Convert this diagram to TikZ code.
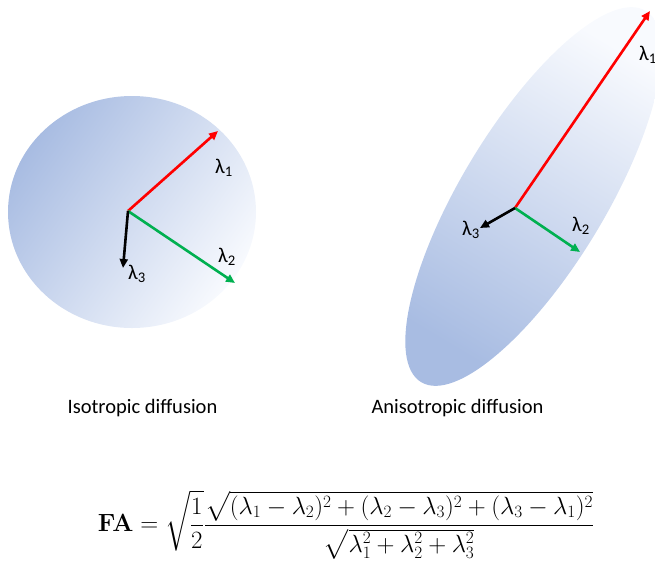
\documentclass[tikz,border=0pt]{standalone}
\usepackage[no-math]{fontspec}
\usepackage{amsmath}
\newfontfamily\labfont{Carlito}
\usetikzlibrary{arrows.meta}
\definecolor{bdark}{RGB}{168,188,226}
\definecolor{blight}{RGB}{248,250,254}
\definecolor{ared}{RGB}{255,0,0}
\definecolor{agreen}{RGB}{0,176,80}
\tikzset{
  vec/.style={line width=2.6pt,-{Triangle[length=9pt,width=8pt]}},
  lam/.style={font=\labfont\fontsize{21}{24}\selectfont,inner sep=0pt},
  captext/.style={font=\labfont\fontsize{20.5}{24}\selectfont,inner sep=0pt},
}
\begin{document}
\begin{tikzpicture}[x=1pt,y=-1pt]
\useasboundingbox (0,0) rectangle (655,566);
% isotropic
\shade[shading=axis,top color=blight,middle color=bdark!80!blight,bottom color=bdark,shading angle=235]
  (132,212) ellipse [x radius=124pt,y radius=116pt];
\coordinate (o1) at (128,211);
\coordinate (r1) at (218,131);
\coordinate (g1) at (235,283);
\coordinate (k1) at (123,268);
\draw[vec,ared] (o1) -- (r1);
\draw[vec,agreen] (o1) -- (g1);
\draw[vec,black] (o1) -- (k1);
\node[lam] (l1a) at (224,168) {λ\textsubscript{1}};
\node[lam] (l2a) at (227,257) {λ\textsubscript{2}};
\node[lam] (l3a) at (137,274) {λ\textsubscript{3}};
% anisotropic
\shade[shading=axis,top color=blight,middle color=bdark!75!blight,bottom color=bdark,shading angle=-31,
  rotate around={58.8:(533.5,196.5)}]
  (533.5,196.5) ellipse [x radius=217pt,y radius=72pt];
\coordinate (o2) at (515,208);
\coordinate (r2) at (650,11);
\coordinate (g2) at (580,252);
\coordinate (k2) at (480,228);
\draw[vec,ared] (o2) -- (r2);
\draw[vec,agreen] (o2) -- (g2);
\draw[vec,black] (o2) -- (k2);
\node[lam] (l1b) at (648,55) {λ\textsubscript{1}};
\node[lam] (l2b) at (581,226) {λ\textsubscript{2}};
\node[lam] (l3b) at (471,230) {λ\textsubscript{3}};
% captions
\node[captext] (c1) at (142.5,408) {Isotropic diffusion};
\node[captext] (c2) at (457.5,408) {Anisotropic diffusion};
% formula
\node[inner sep=0pt,font=\fontsize{24.5}{29}\selectfont] (fa) at (346,525)
  {$\displaystyle \mathbf{FA}=\sqrt{\frac{1}{2}}\frac{\sqrt{(\lambda_1-\lambda_2)^2+(\lambda_2-\lambda_3)^2+(\lambda_3-\lambda_1)^2}}{\sqrt{\lambda_1^2+\lambda_2^2+\lambda_3^2}}$};
\end{tikzpicture}
\end{document}
